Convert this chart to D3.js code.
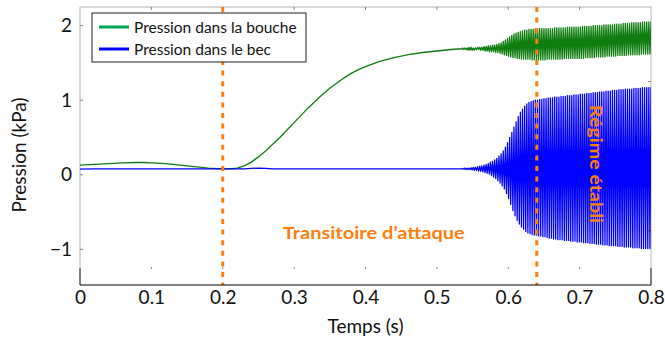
<!DOCTYPE html>
<html>
<head>
<meta charset="utf-8">
<script src="https://cdn.jsdelivr.net/npm/d3@7"></script>
<style>
  body { margin: 0; background: #fff; }
  text { font-family: Lato, "Liberation Sans", sans-serif; fill: #111; }
</style>
</head>
<body>
<svg id="chart" width="665" height="338"></svg>
<script>
// ---- data -----------------------------------------------------------------
// Slowly varying part of both pressures, time in seconds, pressure in kPa
const timeBase = [0, 0.02, 0.04, 0.06, 0.08, 0.09, 0.10, 0.12, 0.14, 0.16, 0.18,
  0.20, 0.21, 0.22, 0.23, 0.24, 0.25, 0.26, 0.27, 0.28, 0.29, 0.30, 0.31, 0.32,
  0.33, 0.34, 0.35, 0.36, 0.37, 0.38, 0.39, 0.40, 0.42, 0.44, 0.46, 0.48, 0.50,
  0.52, 0.535];
const mouthBase = [0.13, 0.14, 0.15, 0.16, 0.165, 0.165, 0.16, 0.15, 0.13, 0.11, 0.09,
  0.08, 0.08, 0.09, 0.12, 0.17, 0.24, 0.32, 0.41, 0.50, 0.60, 0.70, 0.80, 0.90,
  0.99, 1.08, 1.16, 1.23, 1.30, 1.36, 1.41, 1.45, 1.52, 1.57, 1.61, 1.64, 1.66,
  1.68, 1.69];
const beakBase = [0.077, 0.078, 0.078, 0.079, 0.079, 0.079, 0.08, 0.08, 0.08, 0.08, 0.08,
  0.08, 0.08, 0.08, 0.08, 0.085, 0.09, 0.085, 0.08, 0.08, 0.08, 0.08, 0.08, 0.08,
  0.08, 0.08, 0.08, 0.08, 0.08, 0.08, 0.08, 0.08, 0.08, 0.08, 0.08, 0.08, 0.08,
  0.08, 0.08];

// Self-sustained oscillation: one maximum and one minimum per cycle
const oscStart = 0.536;   // s, first cycle
const oscPeriod = 0.003;  // s
const mouthMax = [
  1.70, 1.70, 1.70, 1.71, 1.71, 1.70, 1.70, 1.71, 1.71, 1.71,
  1.72, 1.72, 1.73, 1.73, 1.74, 1.74, 1.75, 1.76, 1.77, 1.79,
  1.81, 1.83, 1.85, 1.87, 1.89, 1.90, 1.91, 1.92, 1.93, 1.94,
  1.94, 1.95, 1.95, 1.95, 1.96, 1.96, 1.96, 1.96, 1.96, 1.96,
  1.96, 1.96, 1.96, 1.97, 1.97, 1.97, 1.97, 1.97, 1.97, 1.98,
  1.98, 1.98, 1.98, 1.98, 1.98, 1.98, 1.99, 1.99, 1.99, 1.99,
  1.99, 2.00, 2.00, 2.00, 2.00, 2.00, 2.01, 2.01, 2.01, 2.01,
  2.01, 2.02, 2.02, 2.02, 2.02, 2.03, 2.03, 2.03, 2.03, 2.04,
  2.04, 2.04, 2.04, 2.04, 2.05, 2.05, 2.05, 2.05, 2.05];
const mouthMin = [
  1.68, 1.68, 1.67, 1.67, 1.67, 1.67, 1.68, 1.68, 1.67, 1.67,
  1.66, 1.66, 1.65, 1.65, 1.65, 1.64, 1.64, 1.63, 1.62, 1.61,
  1.60, 1.59, 1.58, 1.57, 1.57, 1.56, 1.56, 1.55, 1.55, 1.55,
  1.55, 1.55, 1.54, 1.54, 1.54, 1.54, 1.54, 1.54, 1.54, 1.55,
  1.55, 1.55, 1.55, 1.55, 1.55, 1.55, 1.55, 1.56, 1.56, 1.56,
  1.56, 1.56, 1.56, 1.56, 1.56, 1.56, 1.56, 1.57, 1.57, 1.57,
  1.57, 1.57, 1.58, 1.58, 1.58, 1.58, 1.58, 1.59, 1.59, 1.59,
  1.59, 1.59, 1.60, 1.60, 1.60, 1.60, 1.60, 1.61, 1.61, 1.61,
  1.61, 1.61, 1.61, 1.62, 1.62, 1.62, 1.62, 1.62, 1.62];
const beakMax = [
  0.085, 0.09, 0.09, 0.09, 0.095, 0.10, 0.10, 0.11, 0.115, 0.12,
  0.13, 0.14, 0.15, 0.17, 0.18, 0.20, 0.22, 0.25, 0.28, 0.32,
  0.37, 0.43, 0.50, 0.57, 0.64, 0.71, 0.78, 0.84, 0.88, 0.92,
  0.95, 0.97, 0.98, 0.99, 1.00, 1.00, 1.01, 1.01, 1.02, 1.02,
  1.03, 1.03, 1.03, 1.04, 1.04, 1.04, 1.05, 1.05, 1.05, 1.06,
  1.06, 1.06, 1.07, 1.07, 1.07, 1.08, 1.08, 1.08, 1.09, 1.09,
  1.09, 1.10, 1.10, 1.10, 1.11, 1.11, 1.11, 1.12, 1.12, 1.12,
  1.13, 1.13, 1.13, 1.14, 1.14, 1.14, 1.15, 1.15, 1.15, 1.15,
  1.16, 1.16, 1.16, 1.16, 1.17, 1.17, 1.17, 1.17, 1.17];
const beakMin = [
  0.075, 0.07, 0.07, 0.07, 0.065, 0.06, 0.06, 0.05, 0.045, 0.04,
  0.03, 0.02, 0.01, -0.01, -0.03, -0.05, -0.08, -0.11, -0.15, -0.19,
  -0.25, -0.32, -0.40, -0.48, -0.55, -0.61, -0.66, -0.70, -0.73, -0.76,
  -0.78, -0.79, -0.80, -0.81, -0.81, -0.82, -0.82, -0.83, -0.83, -0.84,
  -0.85, -0.85, -0.86, -0.86, -0.87, -0.87, -0.87, -0.88, -0.88, -0.88,
  -0.89, -0.89, -0.89, -0.90, -0.90, -0.90, -0.91, -0.91, -0.91, -0.92,
  -0.92, -0.92, -0.93, -0.93, -0.93, -0.94, -0.94, -0.94, -0.95, -0.95,
  -0.95, -0.95, -0.96, -0.96, -0.96, -0.97, -0.97, -0.97, -0.97, -0.98,
  -0.98, -0.98, -0.98, -0.99, -0.99, -0.99, -0.99, -0.99, -0.99];

const seriesNames = ["Pression dans la bouche", "Pression dans le bec"];
const xTicks = [0, 0.1, 0.2, 0.3, 0.4, 0.5, 0.6, 0.7, 0.8];
const yTicks = [-1, 0, 1, 2];
const yRightTicks = [-0.75, -0.25, 0.25, 0.75, 1.25, 1.75];
const phaseLimits = [0.2, 0.64];
const phaseLabels = ["Transitoire d’attaque", "Régime établi"];

// ---- layout ---------------------------------------------------------------
const plot = { left: 80, right: 651, top: 7, bottom: 268 };
const axisY = 285;
const orange = "#ff7f0e";
const mouthColor = "#0f7d10";
const beakColor = "#0000ff";
const axisFont = 19;

const svg = d3.select("#chart");
const x = d3.scaleLinear().domain([0, 0.8]).range([plot.left, plot.right]);
const y = d3.scaleLinear().domain([-1.25, 2.25]).range([plot.bottom, plot.top]);

svg.append("defs").append("clipPath").attr("id", "plot-clip")
  .append("rect")
  .attr("x", plot.left).attr("y", plot.top)
  .attr("width", plot.right - plot.left).attr("height", plot.bottom - plot.top);

// frame: light grey on top and sides, the bottom is the black axis below
svg.append("path")
  .attr("d", `M${plot.left},${plot.bottom}V${plot.top}H${plot.right}V${plot.bottom}`)
  .attr("fill", "none").attr("stroke", "#b4b4b4").attr("stroke-width", 1);

// small inner ticks
const tickG = svg.append("g").attr("stroke", "#666").attr("stroke-width", 0.8);
xTicks.slice(1, -1).forEach(v => {
  tickG.append("line").attr("x1", x(v)).attr("x2", x(v)).attr("y1", plot.top).attr("y2", plot.top + 3);
  tickG.append("line").attr("x1", x(v)).attr("x2", x(v)).attr("y1", plot.bottom - 1).attr("y2", plot.bottom + 1);
});
yTicks.forEach(v => {
  tickG.append("line").attr("x1", plot.left).attr("x2", plot.left + 3).attr("y1", y(v)).attr("y2", y(v));
});
yRightTicks.forEach(v => {
  tickG.append("line").attr("x1", plot.right).attr("x2", plot.right - 3).attr("y1", y(v)).attr("y2", y(v));
});

// ---- signals --------------------------------------------------------------
function buildSignal(base, maxs, mins) {
  const pts = timeBase.map((t, i) => [t, base[i]]);
  maxs.forEach((v, i) => {
    const t = oscStart + i * oscPeriod;
    pts.push([t, v]);
    pts.push([t + oscPeriod / 2, mins[i]]);
  });
  return pts;
}
const line = d3.line().x(d => x(d[0])).y(d => y(d[1]));
const plotG = svg.append("g").attr("clip-path", "url(#plot-clip)");

plotG.append("path")
  .datum(buildSignal(mouthBase, mouthMax, mouthMin))
  .attr("d", line).attr("fill", "none")
  .attr("stroke", mouthColor).attr("stroke-width", 1.3).attr("stroke-linejoin", "round");

plotG.append("path")
  .datum(buildSignal(beakBase, beakMax, beakMin))
  .attr("d", line).attr("fill", "none")
  .attr("stroke", beakColor).attr("stroke-width", 1.3).attr("stroke-linejoin", "round");

// ---- phase markers ----------------------------------------------------------
svg.append("g").selectAll("line").data(phaseLimits).join("line")
  .attr("x1", d => x(d)).attr("x2", d => x(d))
  .attr("y1", plot.top).attr("y2", axisY)
  .attr("stroke", orange).attr("stroke-width", 3)
  .attr("stroke-dasharray", "5,5.6");

svg.append("text")
  .attr("x", (x(phaseLimits[0]) + x(phaseLimits[1])) / 2 - 6)
  .attr("y", 239)
  .attr("text-anchor", "middle")
  .attr("font-size", 17).attr("font-weight", "bold")
  .attr("textLength", 182).attr("lengthAdjust", "spacingAndGlyphs")
  .style("fill", orange)
  .text(phaseLabels[0]);

svg.append("text")
  .attr("transform", `translate(590,164) rotate(90)`)
  .attr("text-anchor", "middle")
  .attr("font-size", 17).attr("font-weight", "bold")
  .attr("textLength", 118).attr("lengthAdjust", "spacingAndGlyphs")
  .style("fill", orange)
  .text(phaseLabels[1]);

// ---- axes -----------------------------------------------------------------
const fmt = d => d === 0 ? "0" : d3.format(".1f")(d);
const xAxis = svg.append("g").attr("transform", `translate(0,${axisY})`)
  .call(d3.axisBottom(x).tickValues(xTicks).tickFormat(fmt).tickSize(0).tickPadding(6));
xAxis.select(".domain").remove();
xAxis.selectAll("text").attr("font-size", axisFont).attr("font-family", null);

// black baseline with end caps
svg.append("path")
  .attr("d", `M${plot.left},${plot.bottom}V${axisY}H${plot.right}V${plot.bottom}`)
  .attr("fill", "none").attr("stroke", "#000").attr("stroke-width", 1);

const yAxis = svg.append("g").attr("transform", `translate(${plot.left},0)`)
  .call(d3.axisLeft(y).tickValues(yTicks).tickFormat(d => d < 0 ? "−" + Math.abs(d) : String(d)).tickSize(0).tickPadding(8));
yAxis.select(".domain").remove();
yAxis.selectAll("text").attr("font-size", axisFont).attr("font-family", null);

svg.append("text")
  .attr("x", (plot.left + plot.right) / 2).attr("y", 333)
  .attr("text-anchor", "middle").attr("font-size", axisFont)
  .text("Temps (s)");

svg.append("text")
  .attr("transform", `translate(26,155) rotate(-90)`)
  .attr("text-anchor", "middle").attr("font-size", axisFont)
  .text("Pression (kPa)");

// ---- legend ---------------------------------------------------------------
const legend = svg.append("g");
legend.append("rect")
  .attr("x", 92).attr("y", 13).attr("width", 214).attr("height", 49)
  .attr("fill", "#fff").attr("stroke", "#222").attr("stroke-width", 1);
const legendColors = ["#00a651", beakColor];
seriesNames.forEach((name, i) => {
  const ly = 27 + i * 22;
  legend.append("line").attr("x1", 99).attr("x2", 129).attr("y1", ly).attr("y2", ly)
    .attr("stroke", legendColors[i]).attr("stroke-width", 3);
  legend.append("text").attr("x", 134).attr("y", ly + 5.5)
    .attr("font-size", 15.5).text(name);
});
</script>
</body>
</html>
